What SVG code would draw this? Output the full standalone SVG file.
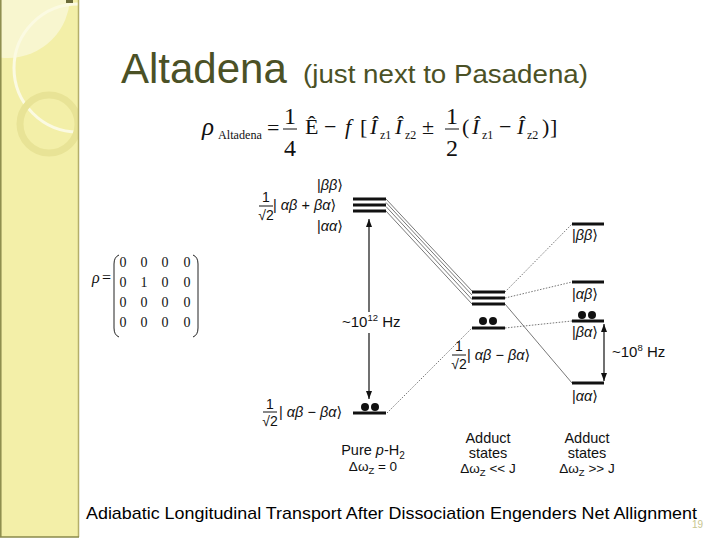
<svg xmlns="http://www.w3.org/2000/svg" width="720" height="540" viewBox="0 0 720 540">
<defs>
<style>
.sans{font-family:"Liberation Sans",Arial,"DejaVu Sans",sans-serif;fill:#111}
.serif{font-family:"Liberation Serif","Times New Roman","DejaVu Serif",serif;fill:#111}
.lvl{stroke:#111;stroke-width:3;fill:none}
.thin{stroke:#555;stroke-width:0.8;fill:none}
.dot{stroke:#666;stroke-width:0.9;stroke-dasharray:1.5 1.5;fill:none}
.arr{stroke:#111;stroke-width:1.2;fill:none}
.ket{font-size:14.5px}
.lab{font-size:15px}
.it{font-style:italic}
</style>
<marker id="ah" viewBox="0 0 8 6" refX="8" refY="3" markerWidth="8" markerHeight="6" markerUnits="userSpaceOnUse" orient="auto-start-reverse">
<path d="M0,0 L8,3 L0,6 z" fill="#111"/>
</marker>
<clipPath id="panel"><rect x="0" y="0" width="78" height="537"/></clipPath>
</defs>
<rect width="720" height="540" fill="#ffffff"/>
<g id="sidebar">
<rect x="0" y="0" width="78" height="537" fill="#f3efa8"/>
<g clip-path="url(#panel)">
<circle cx="8" cy="-4" r="62" fill="#f8f6cf"/>
<circle cx="78" cy="68" r="64" fill="none" stroke="#fbfae2" stroke-width="3"/>
<circle cx="49" cy="124" r="29" fill="none" stroke="#e8e396" stroke-width="7"/>
</g>
<line x1="0.8" y1="0" x2="0.8" y2="537" stroke="#8a8a4a" stroke-width="1.5"/>
<line x1="78.5" y1="0" x2="78.5" y2="537" stroke="#b4ae6a" stroke-width="1.5"/>
<line x1="0" y1="537" x2="79" y2="537" stroke="#8a8a4a" stroke-width="1.5"/>
<rect x="66" y="0" width="7" height="3" fill="#6a6a3a"/>
</g>
<g id="title">
<text x="121" y="83" font-family="Liberation Sans,Arial,sans-serif" font-size="42" fill="#4b5126">Altadena</text>
<text x="303" y="83" font-family="Liberation Sans,Arial,sans-serif" font-size="26" fill="#4b5126" textLength="285" lengthAdjust="spacingAndGlyphs">(just next to Pasadena)</text>
</g>
<g id="formula" class="serif">
<text x="202" y="135" font-size="25" class="it">ρ</text>
<text x="218" y="139" font-size="12.5" textLength="44" lengthAdjust="spacingAndGlyphs">Altadena</text>
<text x="267" y="135" font-size="22">=</text>
<text x="290" y="124" font-size="24" text-anchor="middle">1</text>
<line x1="283" y1="129" x2="297" y2="129" stroke="#111" stroke-width="1"/>
<text x="290" y="156" font-size="24" text-anchor="middle">4</text>
<text x="305" y="134" font-size="22">Ê</text>
<text x="324" y="134" font-size="22">−</text>
<text x="345" y="134" font-size="22" class="it">f</text>
<text x="360" y="134" font-size="22">[</text>
<text x="370" y="134" font-size="22" class="it">Î</text>
<text x="380" y="139" font-size="12">z1</text>
<text x="395" y="134" font-size="22" class="it">Î</text>
<text x="405" y="139" font-size="12">z2</text>
<text x="422" y="134" font-size="22">±</text>
<text x="452" y="124" font-size="24" text-anchor="middle">1</text>
<line x1="445" y1="129" x2="459" y2="129" stroke="#111" stroke-width="1"/>
<text x="452" y="156" font-size="24" text-anchor="middle">2</text>
<text x="462" y="134" font-size="22">(</text>
<text x="472" y="134" font-size="22" class="it">Î</text>
<text x="482" y="139" font-size="12">z1</text>
<text x="499" y="134" font-size="22">−</text>
<text x="517" y="134" font-size="22" class="it">Î</text>
<text x="527" y="139" font-size="12">z2</text>
<text x="542" y="134" font-size="22">)</text>
<text x="550" y="134" font-size="22">]</text>
</g>
<g id="matrix" class="serif">
<text x="92" y="283" font-size="16" class="it">ρ</text>
<text x="102" y="283" font-size="16">=</text>
<path d="M119,255 Q114,257 114,264 L114,328 Q114,335 119,337" stroke="#222" stroke-width="1" fill="none"/>
<path d="M193,255 Q198,257 198,264 L198,328 Q198,335 193,337" stroke="#222" stroke-width="1" fill="none"/>
<g font-size="14" text-anchor="middle">
<text x="123" y="267">0</text><text x="144" y="267">0</text><text x="165" y="267">0</text><text x="187" y="267">0</text>
<text x="123" y="287">0</text><text x="144" y="287">1</text><text x="165" y="287">0</text><text x="187" y="287">0</text>
<text x="123" y="307">0</text><text x="144" y="307">0</text><text x="165" y="307">0</text><text x="187" y="307">0</text>
<text x="123" y="327">0</text><text x="144" y="327">0</text><text x="165" y="327">0</text><text x="187" y="327">0</text>
</g>
</g>
<g id="connectors">
<line class="thin" x1="386" y1="199" x2="472" y2="291"/>
<line class="thin" x1="386" y1="202.5" x2="472" y2="295"/>
<line class="thin" x1="386" y1="206.5" x2="472" y2="299.5"/>
<line class="thin" x1="386" y1="211" x2="472" y2="304"/>
<line class="dot" x1="505" y1="292" x2="572" y2="224"/>
<line class="dot" x1="505" y1="298" x2="572" y2="282"/>
<line class="thin" x1="505" y1="304" x2="572" y2="383"/>
<line class="dot" x1="505" y1="328" x2="572" y2="321"/>
<line class="dot" x1="387" y1="413" x2="472" y2="328"/>
<line class="arr" x1="369" y1="312" x2="369" y2="219" marker-end="url(#ah)"/>
<line class="arr" x1="369" y1="333" x2="369" y2="399" marker-end="url(#ah)"/>
<line class="arr" x1="604" y1="381" x2="604" y2="324" marker-start="url(#ah)" marker-end="url(#ah)"/>
</g>
<g id="triplet-left">
<line class="lvl" x1="353" y1="199" x2="386" y2="199"/>
<line class="lvl" x1="353" y1="205" x2="386" y2="205"/>
<line class="lvl" x1="353" y1="211" x2="386" y2="211"/>
<text class="sans ket" x="317" y="190">|<tspan class="it">ββ</tspan>⟩</text>
<text class="sans" x="266" y="202" font-size="14" text-anchor="middle">1</text>
<line x1="259" y1="206" x2="273" y2="206" stroke="#111" stroke-width="1"/>
<text class="sans" x="266" y="220" font-size="14" text-anchor="middle">√2</text>
<text class="sans ket" x="273" y="210">| <tspan class="it">αβ</tspan>  + <tspan class="it">βα</tspan>⟩</text>
<text class="sans ket" x="317" y="231">|<tspan class="it">αα</tspan>⟩</text>
</g>
<g id="singlet-left">
<line class="lvl" x1="353" y1="413" x2="386" y2="413"/>
<circle cx="365" cy="407" r="4" fill="#111"/>
<circle cx="375" cy="407" r="4" fill="#111"/>
<text class="sans" x="270" y="409" font-size="14" text-anchor="middle">1</text>
<line x1="263" y1="412" x2="277" y2="412" stroke="#111" stroke-width="1"/>
<text class="sans" x="270" y="426" font-size="14" text-anchor="middle">√2</text>
<text class="sans ket" x="279" y="417">| <tspan class="it">αβ</tspan>  − <tspan class="it">βα</tspan>⟩</text>
</g>
<g id="label-1e12">
<text class="sans lab" x="342" y="327">~10<tspan font-size="9.5" dy="-6">12</tspan><tspan dy="6"> Hz</tspan></text>
</g>
<g id="triplet-center">
<line class="lvl" x1="472" y1="292" x2="505" y2="292"/>
<line class="lvl" x1="472" y1="298" x2="505" y2="298"/>
<line class="lvl" x1="472" y1="304" x2="505" y2="304"/>
</g>
<g id="singlet-center">
<line class="lvl" x1="472" y1="328" x2="505" y2="328"/>
<circle cx="483" cy="321" r="4" fill="#111"/>
<circle cx="493" cy="321" r="4" fill="#111"/>
<text class="sans" x="459" y="351" font-size="14" text-anchor="middle">1</text>
<line x1="452" y1="355" x2="466" y2="355" stroke="#111" stroke-width="1"/>
<text class="sans" x="459" y="369" font-size="14" text-anchor="middle">√2</text>
<text class="sans ket" x="467" y="360">| <tspan class="it">αβ</tspan>  − <tspan class="it">βα</tspan>⟩</text>
</g>
<g id="right-bb">
<line class="lvl" x1="572" y1="224" x2="604" y2="224"/>
<text class="sans ket" x="572" y="240">|<tspan class="it">ββ</tspan>⟩</text>
</g>
<g id="right-ab">
<line class="lvl" x1="572" y1="282" x2="604" y2="282"/>
<text class="sans ket" x="572" y="299">|<tspan class="it">αβ</tspan>⟩</text>
</g>
<g id="right-ba">
<line class="lvl" x1="572" y1="321" x2="604" y2="321"/>
<circle cx="582" cy="315" r="4" fill="#111"/>
<circle cx="592" cy="315" r="4" fill="#111"/>
<text class="sans ket" x="572" y="337">|<tspan class="it">βα</tspan>⟩</text>
</g>
<g id="right-aa">
<line class="lvl" x1="572" y1="383" x2="604" y2="383"/>
<text class="sans ket" x="572" y="401">|<tspan class="it">αα</tspan>⟩</text>
</g>
<g id="label-1e8">
<text class="sans lab" x="612" y="357">~10<tspan font-size="9.5" dy="-6">8</tspan><tspan dy="6"> Hz</tspan></text>
</g>
<g id="col-labels" class="sans" text-anchor="middle">
<text x="373" y="455" font-size="14.5">Pure <tspan class="it">p</tspan>-H<tspan font-size="10" dy="4">2</tspan></text>
<text x="373" y="471" font-size="13.5">Δω<tspan font-size="9.5" dy="3">Z</tspan><tspan dy="-3"> = 0</tspan></text>
<text x="488" y="443" font-size="14.5">Adduct</text>
<text x="488" y="458" font-size="14.5">states</text>
<text x="488" y="473" font-size="13.5">Δω<tspan font-size="9.5" dy="3">Z</tspan><tspan dy="-3"> &lt;&lt; J</tspan></text>
<text x="587" y="443" font-size="14.5">Adduct</text>
<text x="587" y="458" font-size="14.5">states</text>
<text x="587" y="473" font-size="13.5">Δω<tspan font-size="9.5" dy="3">Z</tspan><tspan dy="-3"> &gt;&gt; J</tspan></text>
</g>
<g id="caption">
<text x="86" y="519" font-family="Liberation Sans,Arial,sans-serif" font-size="17" fill="#000" textLength="611" lengthAdjust="spacingAndGlyphs">Adiabatic Longitudinal Transport After Dissociation Engenders Net Allignment</text>
<text x="692" y="528" font-family="Liberation Sans,Arial,sans-serif" font-size="10" fill="#c8c68e">19</text>
</g>
</svg>
